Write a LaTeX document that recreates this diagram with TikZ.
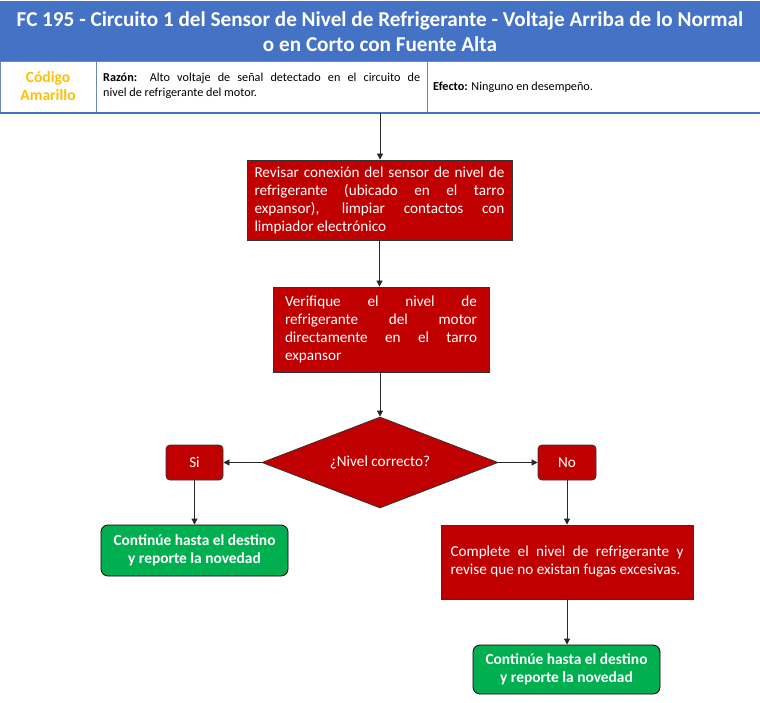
\documentclass[tikz,border=0pt]{standalone}
\usepackage{fontspec}
\setmainfont{Carlito}
\usetikzlibrary{shapes.geometric,arrows.meta}
\hyphenpenalty=10000
\exhyphenpenalty=10000
\tolerance=10000
\definecolor{hdrblue}{HTML}{4472C4}
\definecolor{boxred}{HTML}{C00000}
\definecolor{boxgreen}{HTML}{00B050}
\definecolor{amber}{HTML}{FFC000}
\definecolor{gridline}{HTML}{6A86C0}
\tikzset{
  redbox/.style={draw=black!80, line width=0.8pt, fill=boxred, text=white, font=\fontsize{15.2}{18}\selectfont, align=justify, inner sep=0pt},
  greenbox/.style={draw=black, line width=0.8pt, fill=boxgreen, text=white, rounded corners=7pt, font=\bfseries\fontsize{15.4}{18}\selectfont, align=center},
  smallred/.style={draw=black!80, line width=0.8pt, fill=boxred, text=white, rounded corners=4pt, font=\fontsize{15.2}{16}\selectfont},
  conn/.style={line width=0.8pt, draw=black!85},
  arr/.style={conn, -{Triangle[length=6pt,width=6pt]}},
}
\begin{document}
\begin{tikzpicture}[x=1pt,y=-1pt]
\useasboundingbox (0,0) rectangle (760,703);
% header
\fill[hdrblue] (0,1) rectangle (760,61);
\node[text=white, font=\bfseries\fontsize{21.2}{25}\selectfont, align=center] (title) at (380,32)
  {FC 195 - Circuito 1 del Sensor de Nivel de Refrigerante - Voltaje Arriba de lo Normal\\o en Corto con Fuente Alta};
\draw[gridline, line width=0.8pt] (0,61) rectangle (760,113);
\draw[gridline, line width=0.8pt] (96,61) -- (96,113);
\draw[gridline, line width=0.8pt] (427,61) -- (427,113);
\draw[hdrblue, line width=2pt] (0,113) -- (760,113);
\node[text=amber, font=\bfseries\fontsize{15.6}{18}\selectfont, align=center] (codigo) at (48,86) {Código\\Amarillo};
\node[font=\fontsize{12.2}{15}\selectfont, text width=317pt, align=justify, inner sep=0pt, anchor=north west] (razon) at (103,73)
  {\textbf{Razón:} Alto voltaje de señal detectado en el circuito de\linebreak nivel de refrigerante del motor.};
\node[font=\fontsize{12.2}{15}\selectfont, anchor=west, inner sep=0pt] (efecto) at (433,87)
  {\textbf{Efecto:} Ninguno en desempeño.};
\coordinate (hdrbot) at (380,113);
% boxes
\node[redbox, minimum width=265pt, minimum height=80pt, text width=250pt] (b1) at (379.5,200)
  {Revisar conexión del sensor de nivel de\linebreak refrigerante (ubicado en el tarro\linebreak expansor), limpiar contactos con\linebreak limpiador electrónico};
\node[redbox, minimum width=216pt, minimum height=85pt, text width=192pt] (b2) at (381,329.5)
  {Verifique el nivel de refrigerante del motor directamente en el tarro expansor};
\node[diamond, draw=black!80, line width=0.8pt, fill=boxred, text=white, minimum width=236pt, minimum height=91pt, inner sep=0pt, aspect=2.6, font=\fontsize{15.2}{16}\selectfont] (d) at (380,462.5) {¿Nivel correcto?};
\node[smallred, minimum width=57pt, minimum height=35pt] (si) at (194.5,462.5) {Si};
\node[smallred, minimum width=58pt, minimum height=35pt] (no) at (567,462.5) {No};
\node[greenbox, minimum width=187pt, minimum height=51pt] (g1) at (194.5,550.5) {Continúe hasta el destino\\y reporte la novedad};
\node[redbox, minimum width=252pt, minimum height=74pt, text width=233pt] (b3) at (567,562)
  {Complete el nivel de refrigerante y revise que no existan fugas excesivas.};
\node[greenbox, minimum width=187pt, minimum height=49pt] (g2) at (566.5,669.5) {Continúe hasta el destino\\y reporte la novedad};
% connectors
\draw[arr] (hdrbot) -- (b1.north -| hdrbot);
\draw[arr] (b1.south) -- (b1.south |- b2.north);
\draw[arr] (b2.south -| d.north) -- (d.north);
\draw[arr] (d.west) -- (si.east);
\draw[arr] (d.east) -- (no.west);
\draw[arr] (si.south) -- (g1.north);
\draw[arr] (no.south) -- (b3.north);
\draw[arr] (b3.south) -- (b3.south |- g2.north);
\end{tikzpicture}
\end{document}
